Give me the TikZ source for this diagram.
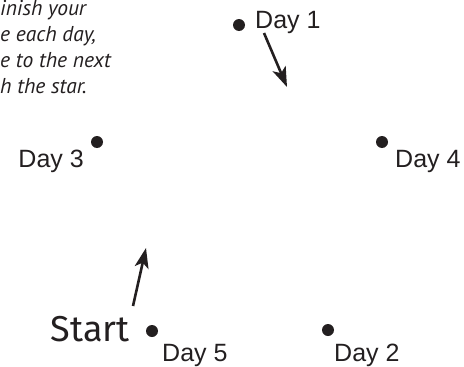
\documentclass[tikz,border=0pt]{standalone}
\usepackage{fontspec}
\setmainfont{Liberation Sans}
\newfontfamily\notefont{PT Sans}
\newfontfamily\handfont{Fira Sans}
\usetikzlibrary{arrows.meta,positioning}
\definecolor{ink}{HTML}{231F20}

\tikzset{
  day/.style={circle, fill=ink, inner sep=0pt, minimum size=12pt},
  daylabel/.style={font=\fontsize{25}{25}\selectfont, inner sep=0pt, text=ink},
  hint/.style={-{Stealth[length=20pt,width=14pt,inset=5pt]}, line width=2.6pt, ink},
}

\begin{document}
\begin{tikzpicture}[x=1pt,y=-1pt]
  \useasboundingbox (0,0) rectangle (464,367);

  % instructions, cut off on the left
  \foreach \txt [count=\i] in {inish your, {e each day,}, e to the next, h the star.}
    \node[anchor=base west, inner sep=0pt, text=ink,
          font=\notefont\itshape\fontsize{21.5}{26}\selectfont] (note\i) at (0,-11+26*\i) {\txt};

  % the five days of the star
  \node[day] (d1) at (239,25) {};
  \node[day] (d4) at (382,142) {};
  \node[day] (d2) at (328,330) {};
  \node[day] (d5) at (152,331) {};
  \node[day] (d3) at (97,142) {};

  \node[daylabel, anchor=base west] (l1) at ([shift={(16,3)}]d1.center) {Day 1};
  \node[daylabel, anchor=base west] (l4) at ([shift={(13,25)}]d4.center) {Day 4};
  \node[daylabel, anchor=base west] (l2) at ([shift={(6,31)}]d2.center) {Day 2};
  \node[daylabel, anchor=base west] (l5) at ([shift={(10,30)}]d5.center) {Day 5};
  \node[daylabel, anchor=base east] (l3) at ([shift={(-13,25)}]d3.center) {Day 3};

  \node[anchor=base east, inner sep=0pt, text=ink, font=\handfont\fontsize{36}{36}\selectfont]
    (start) at ([shift={(-22,10)}]d5.center) {Start};

  % hints
  \coordinate (h1a) at (264,33);
  \coordinate (h1b) at (287,87);
  \coordinate (h2a) at (133,306);
  \coordinate (h2b) at (146,248);
  \draw[hint] (h1a) -- (h1b);
  \draw[hint] (h2a) -- (h2b);
\end{tikzpicture}
\end{document}
